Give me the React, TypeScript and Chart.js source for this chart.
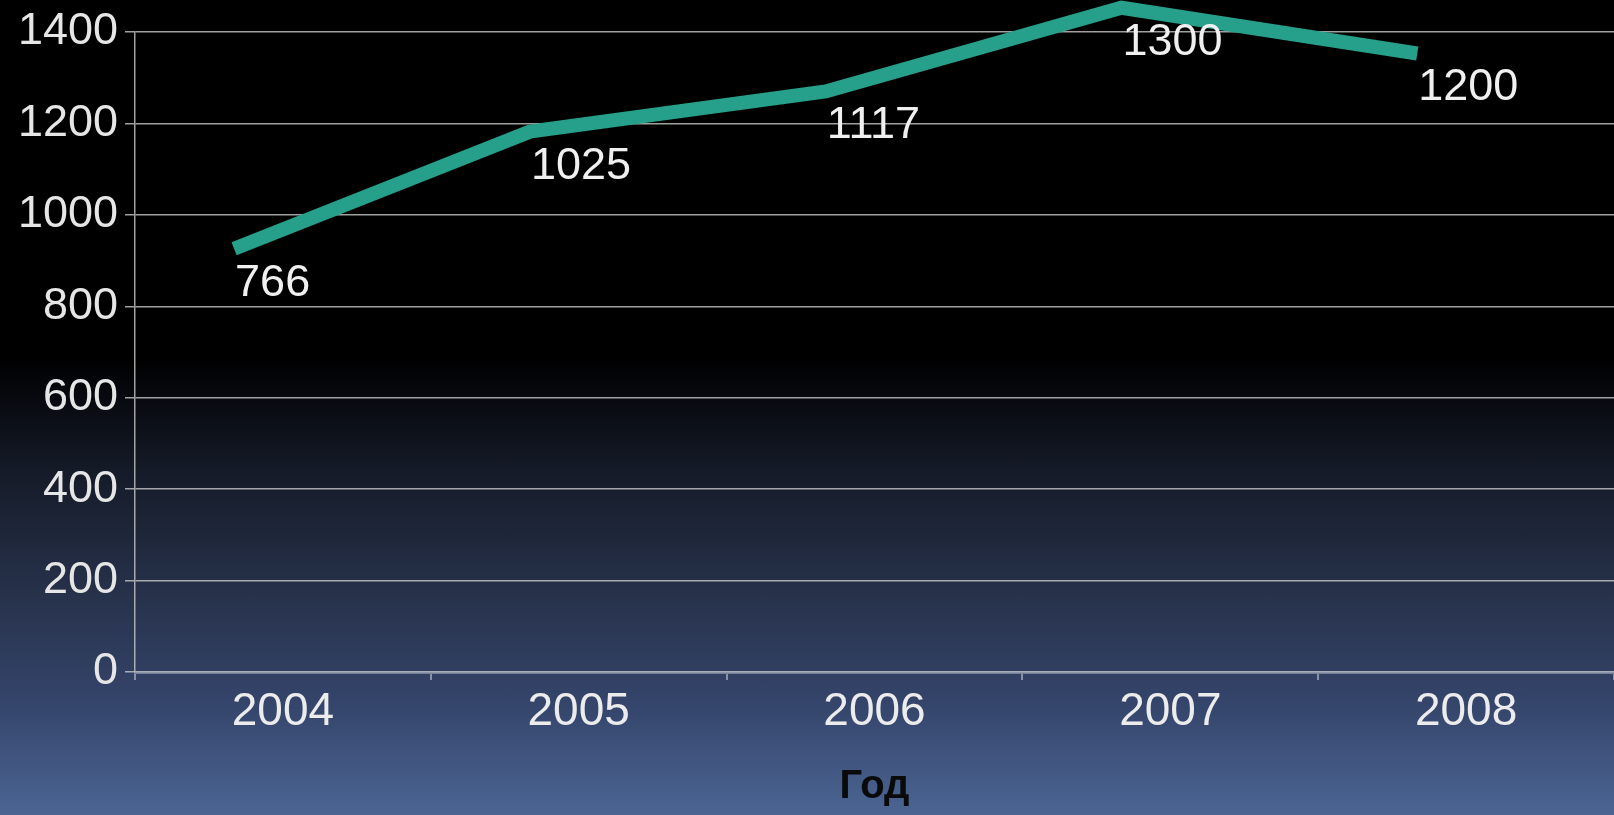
import React, { useEffect, useRef } from "react";
import { Chart, registerables } from "chart.js";

Chart.register(...registerables);

const years = ["2004", "2005", "2006", "2007", "2008"];
// plotted heights of the line
const lineValues = [926, 1182, 1270, 1453, 1353];
// the numbers printed next to each point
const pointLabels = ["766", "1025", "1117", "1300", "1200"];
const yMin = 0;
const yMax = 1400;
const yStep = 200;
const axisTitle = "Год";

const W = 1614;
const H = 815;
const X_SHIFT = 0.165; // line drawn slightly left of category centres

const FONT = "'Liberation Sans', Arial, sans-serif";

const labelPlugin = {
  id: "pointLabels",
  afterDatasetsDraw(chart: any) {
    const meta = chart.getDatasetMeta(0);
    const ctx = chart.ctx;
    ctx.save();
    ctx.font = `45px ${FONT}`;
    ctx.fillStyle = "#f0f0f0";
    ctx.textAlign = "left";
    ctx.textBaseline = "alphabetic";
    meta.data.forEach((pt: any, i: number) => {
      ctx.fillText(pointLabels[i], pt.x + 1, pt.y + 47);
    });
    ctx.restore();
  },
};

export default function App() {
  const ref = useRef<HTMLCanvasElement | null>(null);

  useEffect(() => {
    document.body.style.margin = "0";
    const canvas = ref.current;
    if (!canvas) return;
    const chart = new Chart(canvas, {
      type: "line",
      data: {
        labels: years,
        datasets: [
          {
            data: lineValues.map((v, i) => ({ x: i - X_SHIFT, y: v })),
            xAxisID: "x2",
            yAxisID: "y",
            borderColor: "#26a08b",
            borderWidth: 14,
            borderCapStyle: "butt",
            borderJoinStyle: "miter",
            pointRadius: 0,
            pointHoverRadius: 0,
            tension: 0,
            fill: false,
            clip: false as any,
          } as any,
        ],
      },
      options: {
        responsive: false,
        animation: false,
        devicePixelRatio: 1,
        events: [],
        layout: { padding: { top: 32, left: 0, right: 0, bottom: 0 } },
        plugins: {
          legend: { display: false },
          tooltip: { enabled: false },
          title: { display: false },
        },
        scales: {
          x: {
            type: "category",
            offset: true,
            position: "bottom",
            grid: {
              offset: true,
              drawOnChartArea: false,
              drawTicks: true,
              tickLength: 8,
              color: "rgba(175,180,195,0.7)",
              lineWidth: 2,
            },
            border: { display: true, color: "rgba(165,172,190,0.6)", width: 3 },
            ticks: {
              color: "#ececec",
              font: { family: FONT, size: 46 },
              padding: 5,
              maxRotation: 0,
              autoSkip: false,
            },
            title: {
              display: true,
              text: axisTitle,
              color: "#0a0a0a",
              font: { family: FONT, size: 40, weight: "bold" },
              padding: { top: 0, bottom: 4 },
            },
            afterFit: (s: any) => {
              s.height = 143;
              s.paddingLeft = 0;
              s.paddingRight = 0;
            },
          },
          x2: {
            type: "linear",
            display: false,
            min: -0.5,
            max: years.length - 0.5,
          },
          y: {
            type: "linear",
            position: "left",
            min: yMin,
            max: yMax,
            grid: {
              color: "rgba(200,200,200,0.8)",
              lineWidth: 1.5,
              tickLength: 10,
              drawTicks: true,
            },
            border: { display: true, color: "rgba(200,200,200,0.8)", width: 1.5 },
            ticks: {
              stepSize: yStep,
              color: "#e6e6e6",
              font: { family: FONT, size: 45 },
              padding: 7,
              callback: (v: any) => String(v),
            },
            afterFit: (s: any) => {
              s.width = 135;
              s.paddingTop = 0;
              s.paddingBottom = 0;
            },
          },
        },
      },
      plugins: [labelPlugin],
    });
    return () => chart.destroy();
  }, []);

  return (
    <div
      style={{
        width: W,
        height: H,
        background:
          "linear-gradient(to bottom, #000000 0%, #000000 44%, #06080d 48%, #151b28 58%, #28334d 74%, #34446a 86%, #4b6593 100%)",
      }}
    >
      <canvas ref={ref} width={W} height={H} style={{ display: "block" }} />
    </div>
  );
}
